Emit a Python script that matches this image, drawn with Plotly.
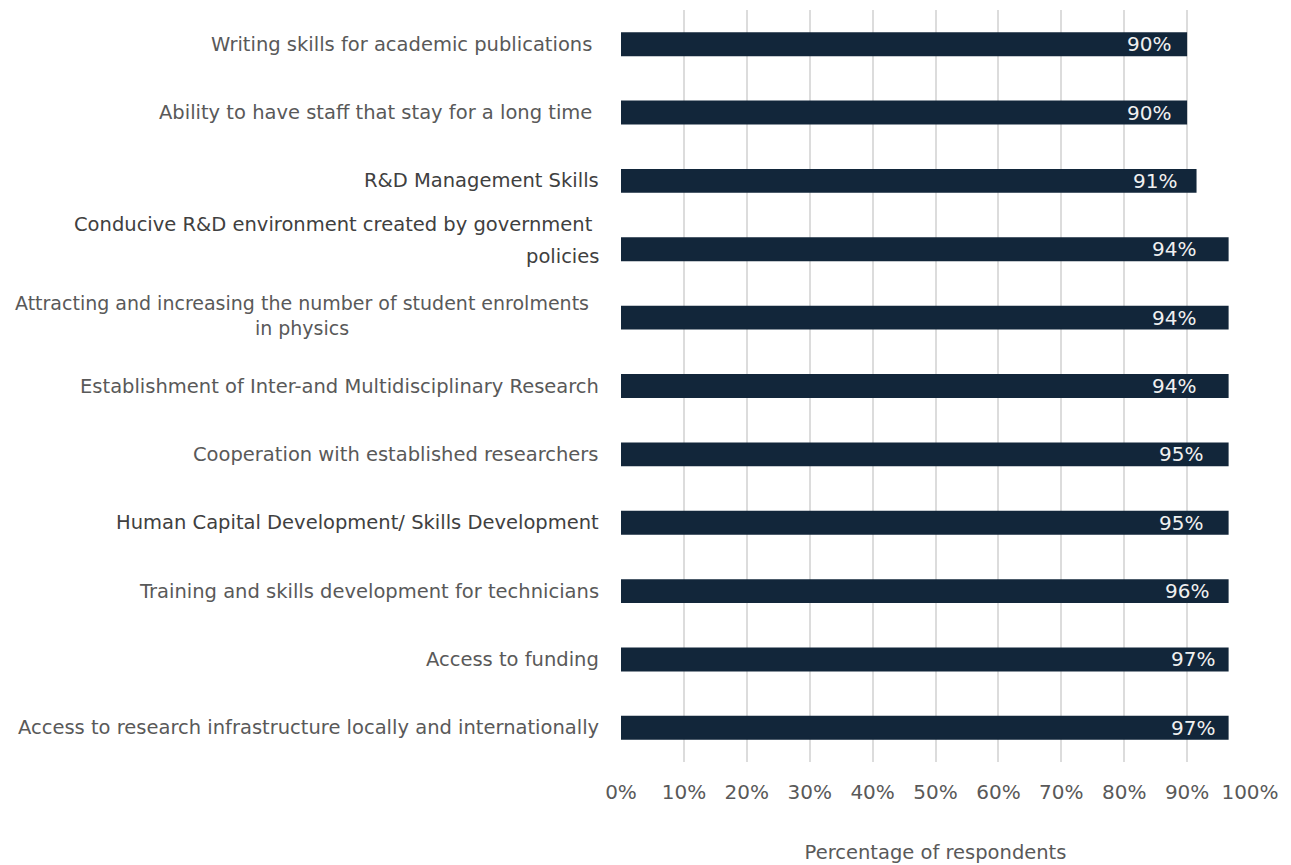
import plotly.graph_objects as go

# categories listed top to bottom as in the source chart
categories = [
    "Writing skills for academic publications ",
    "Ability to have staff that stay for a long time ",
    "R&D Management Skills",
    "Conducive R&D environment created by government policies",
    "Attracting and increasing the number of student enrolments in physics",
    "Establishment of Inter-and Multidisciplinary Research",
    "Cooperation with established researchers",
    "Human Capital Development/ Skills Development",
    "Training and skills development for technicians",
    "Access to funding",
    "Access to research infrastructure locally and internationally",
]
# how the long labels are wrapped on the chart
label_lines = {
    "Conducive R&D environment created by government policies":
        ["Conducive R&D environment created by government ", "policies"],
    "Attracting and increasing the number of student enrolments in physics":
        ["Attracting and increasing the number of student enrolments<br>in physics"],
}
# bar lengths as drawn (the longer bars are all cut at the same length in the source)
bar_values = [90, 90, 91.5, 96.6, 96.6, 96.6, 96.6, 96.6, 96.6, 96.6, 96.6]
# values printed on the bars
label_values = [90, 90, 91, 94, 94, 94, 95, 95, 96, 97, 97]

FONT = "DejaVu Sans"
GREY = "#595959"
DARK = "#404040"
dark_labels = {categories[2], categories[3], categories[7]}

fig = go.Figure()
fig.add_trace(go.Bar(
    y=categories, x=bar_values, orientation="h",
    marker=dict(color="#12263a", line=dict(width=0)),
    hoverinfo="x+y",
))

annotations = []
for cat, lv in zip(categories, label_values):
    color = DARK if cat in dark_labels else GREY
    lines = label_lines.get(cat, [cat])
    size, xs = 19.5, -20
    if len(lines) == 2:
        shifts = [25, -7]
    elif "<br>" in lines[0]:
        shifts = [2]
        size, xs = 19, -30
    else:
        shifts = [0]
    for line, ys in zip(lines, shifts):
        annotations.append(dict(
            x=0, xref="paper", y=cat, yref="y", text=line, showarrow=False,
            xanchor="right", xshift=xs, yshift=ys, align="center",
            font=dict(family=FONT, size=size, color=color),
        ))
    # percentage label inside the bar
    annotations.append(dict(
        x=lv, xref="x", y=cat, yref="y", text=f"{lv}%", showarrow=False,
        xanchor="right", xshift=-14,
        font=dict(family=FONT, size=20, color="#f0f0f0"),
    ))

fig.update_layout(
    width=1291, height=865,
    margin=dict(l=613, r=49, t=2, b=111),
    paper_bgcolor="white", plot_bgcolor="white",
    bargap=0.65,
    showlegend=False,
    annotations=annotations,
    font=dict(family=FONT, size=19.5, color=GREY),
    xaxis=dict(
        range=[0, 100], dtick=10, ticksuffix="%",
        showgrid=True, gridcolor="#dcdcdc", gridwidth=2,
        zeroline=False, showline=False, ticks="",
        ticklabelstandoff=16,
        tickfont=dict(family=FONT, size=20, color=GREY),
        title=dict(text="Percentage of respondents", standoff=42,
                   font=dict(family=FONT, size=19.5, color=GREY)),
    ),
    yaxis=dict(
        autorange="reversed", showticklabels=False, showgrid=False,
        zeroline=False, showline=False,
    ),
)

fig.write_html("out.html")
